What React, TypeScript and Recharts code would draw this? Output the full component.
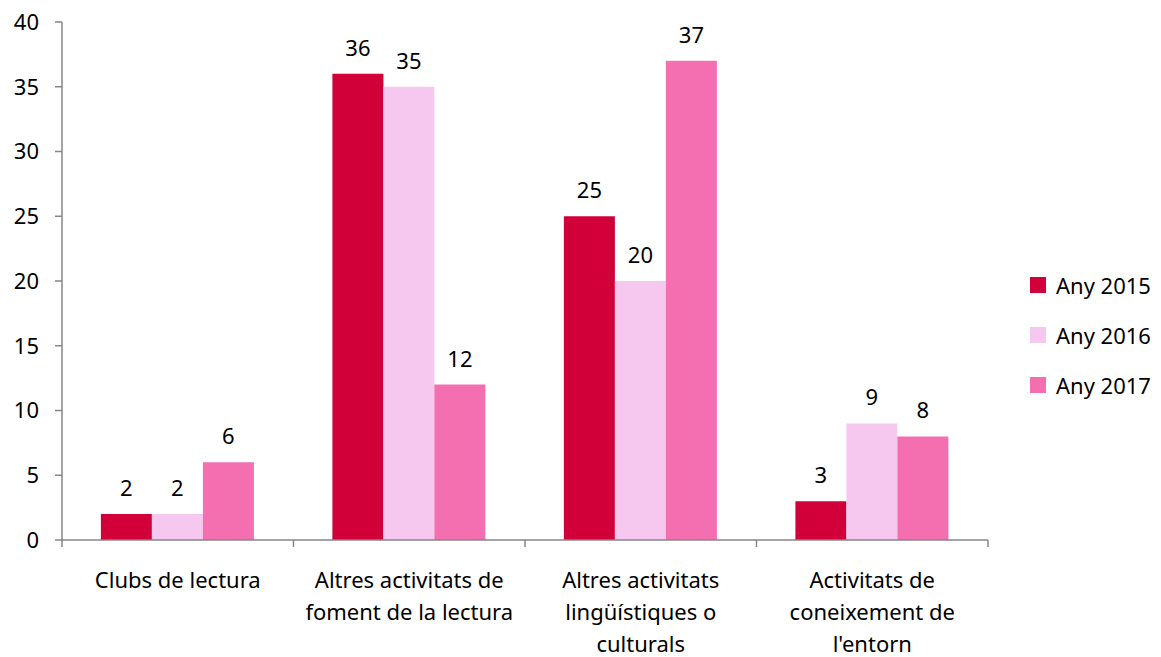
import React from "react";
import { BarChart, Bar, XAxis, YAxis, LabelList } from "recharts";

const categories = [
  "Clubs de lectura",
  "Altres activitats de|foment de la lectura",
  "Altres activitats|lingüístiques o|culturals",
  "Activitats de|coneixement de|l'entorn",
];
const any2015 = [2, 36, 25, 3];
const any2016 = [2, 35, 20, 9];
const any2017 = [6, 12, 37, 8];
const yTicks = [0, 5, 10, 15, 20, 25, 30, 35, 40];
const seriesNames = ["Any 2015", "Any 2016", "Any 2017"];
const colors = ["#D20038", "#F6C8EF", "#F46FB0"];

const data = categories.map((c, i) => ({
  cat: c,
  a: any2015[i],
  b: any2016[i],
  c2: any2017[i],
}));

const FONT = "'Noto Sans', sans-serif";
const FS = 22;

const CatTick = (props: any) => {
  const { x, y, payload } = props;
  const lines = String(payload.value).split("|");
  return (
    <g transform={`translate(${x},${y})`}>
      {lines.map((l: string, i: number) => (
        <text
          key={i}
          x={0}
          y={40 + i * 32}
          textAnchor="middle"
          fontSize={FS}
          fontFamily={FONT}
          fill="#000"
        >
          {l}
        </text>
      ))}
    </g>
  );
};

export default function App() {
  const keys = ["a", "b", "c2"];
  return (
    <div style={{ position: "relative", width: 1161, height: 657, margin: "-8px 0 0 -8px" }}>
      <BarChart
        width={1161}
        height={657}
        data={data}
        margin={{ top: 22, right: 173, bottom: 0, left: 8 }}
        barCategoryGap="16.8%"
        barGap={0}
      >
        <XAxis
          dataKey="cat"
          interval={0}
          tick={<CatTick />}
          height={117}
          axisLine={{ stroke: "#868686", strokeWidth: 1.5 }}
          tickLine={false}
        />
        <YAxis
          domain={[0, 40]}
          ticks={yTicks}
          width={54}
          tickSize={7}
          tickMargin={16}
          axisLine={{ stroke: "#868686", strokeWidth: 1.5 }}
          tickLine={{ stroke: "#868686", strokeWidth: 1.5 }}
          tick={{ fill: "#000", fontSize: FS, fontFamily: FONT }}
        />
        {keys.map((k, i) => (
          <Bar key={k} dataKey={k} name={seriesNames[i]} fill={colors[i]} isAnimationActive={false}>
            <LabelList
              dataKey={k}
              position="top"
              offset={18}
              fill="#000"
              fontSize={FS}
              fontFamily={FONT}
            />
          </Bar>
        ))}
      </BarChart>
      <svg
        style={{ position: "absolute", left: 0, top: 0, pointerEvents: "none" }}
        width={1161}
        height={657}
      >
        {[0, 1, 2, 3, 4].map((i) => (
          <line
            key={i}
            x1={62 + (i * 926) / 4}
            x2={62 + (i * 926) / 4}
            y1={540}
            y2={547}
            stroke="#868686"
            strokeWidth={1.5}
          />
        ))}
      </svg>
      <div
        style={{
          position: "absolute",
          left: 1030,
          top: 260,
          fontFamily: FONT,
          fontSize: FS,
        }}
      >
        {seriesNames.map((n, i) => (
          <div key={n} style={{ display: "flex", alignItems: "center", height: 50 }}>
            <div style={{ width: 16, height: 16, background: colors[i], marginRight: 10 }} />
            <span>{n}</span>
          </div>
        ))}
      </div>
    </div>
  );
}
